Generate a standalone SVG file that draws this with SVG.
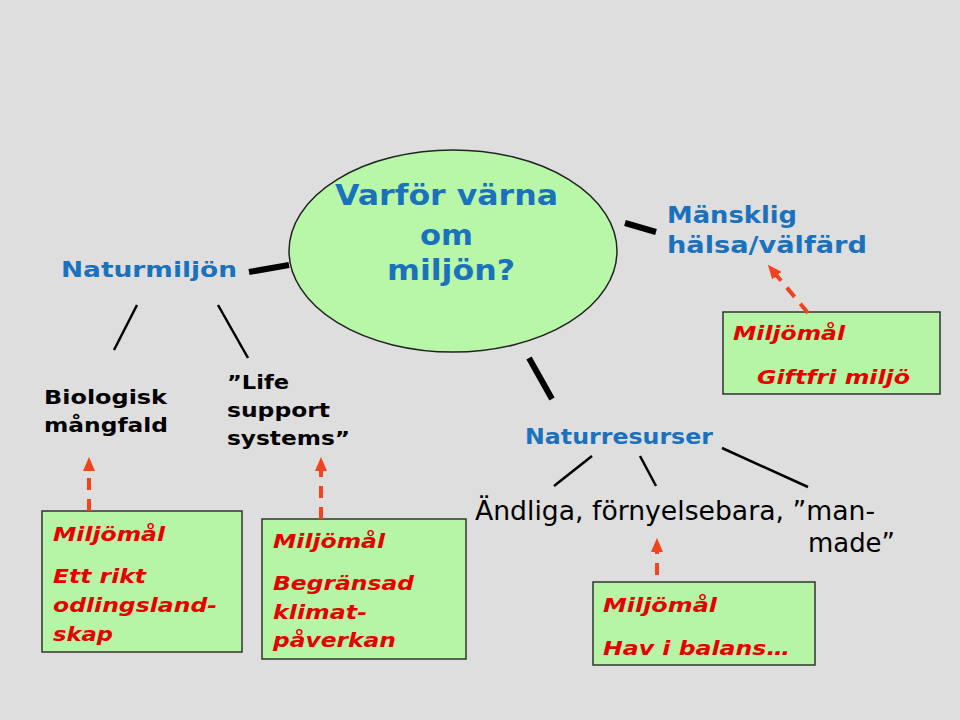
<svg xmlns="http://www.w3.org/2000/svg" width="960" height="720" viewBox="0 0 960 720">
<style>
text{font-family:"DejaVu Sans",Verdana,sans-serif}
.blue{font-weight:bold;fill:#1a72bd}
.blk{font-weight:bold;fill:#000;font-size:20px}
.red{font-weight:bold;font-style:italic;fill:#e60000;font-size:20px}
.box{fill:#b5f5a5;stroke:#333;stroke-width:1.5}
.ln{stroke:#000;stroke-width:2.5}
.th{stroke:#000;stroke-width:6}
.arr{stroke:#f0441e;stroke-width:4;stroke-dasharray:12,9;fill:none}
</style>
<defs>
<marker id="ah" markerWidth="3.5" markerHeight="3" refX="1.5" refY="1.5" orient="auto" markerUnits="strokeWidth">
<path d="M0,0 L3.5,1.5 L0,3 z" fill="#f0441e"/>
</marker>
</defs>
<rect x="0" y="0" width="960" height="720" fill="#dedede"/>
<g id="center">
<ellipse cx="453" cy="251" rx="164" ry="101" fill="#b8f7a8" stroke="#222" stroke-width="1.5"/>
<text class="blue" font-size="28" x="335" y="205" textLength="223" lengthAdjust="spacingAndGlyphs">Varför värna</text>
<text class="blue" font-size="28" x="420" y="245" textLength="53" lengthAdjust="spacingAndGlyphs">om</text>
<text class="blue" font-size="28" x="387" y="280" textLength="128" lengthAdjust="spacingAndGlyphs">miljön?</text>
</g>
<g id="naturmiljon"><text class="blue" font-size="21" x="61" y="277" textLength="176" lengthAdjust="spacingAndGlyphs">Naturmiljön</text></g>
<g id="mansklig"><text class="blue" font-size="23" x="667" y="223" textLength="130" lengthAdjust="spacingAndGlyphs">Mänsklig</text><text class="blue" font-size="23" x="667" y="253" textLength="200" lengthAdjust="spacingAndGlyphs">hälsa/välfärd</text></g>
<g id="biologisk"><text class="blk" x="44" y="404" textLength="123" lengthAdjust="spacingAndGlyphs">Biologisk</text><text class="blk" x="44" y="432" textLength="124" lengthAdjust="spacingAndGlyphs">mångfald</text></g>
<g id="life"><text class="blk" x="227" y="389" textLength="62" lengthAdjust="spacingAndGlyphs">”Life</text><text class="blk" x="227" y="417" textLength="103" lengthAdjust="spacingAndGlyphs">support</text><text class="blk" x="227" y="445" textLength="123" lengthAdjust="spacingAndGlyphs">systems”</text></g>
<g id="naturresurser"><text class="blue" font-size="21" x="525" y="444" textLength="188" lengthAdjust="spacingAndGlyphs">Naturresurser</text></g>
<g id="andliga"><text font-size="26" fill="#000" x="475" y="520" textLength="400" lengthAdjust="spacingAndGlyphs">Ändliga, förnyelsebara, ”man-</text><text font-size="26" fill="#000" x="808" y="552" textLength="87" lengthAdjust="spacingAndGlyphs">made”</text></g>
<g id="mal1"><rect class="box" x="42" y="511" width="200" height="141"/><text class="red" x="53" y="541" textLength="112" lengthAdjust="spacingAndGlyphs">Miljömål</text><text class="red" x="53" y="583" textLength="93" lengthAdjust="spacingAndGlyphs">Ett rikt</text><text class="red" x="53" y="612" textLength="164" lengthAdjust="spacingAndGlyphs">odlingsland-</text><text class="red" x="53" y="641" textLength="60" lengthAdjust="spacingAndGlyphs">skap</text></g>
<g id="mal2"><rect class="box" x="262" y="519" width="204" height="140"/><text class="red" x="273" y="548" textLength="112" lengthAdjust="spacingAndGlyphs">Miljömål</text><text class="red" x="273" y="590" textLength="141" lengthAdjust="spacingAndGlyphs">Begränsad</text><text class="red" x="273" y="619" textLength="94" lengthAdjust="spacingAndGlyphs">klimat-</text><text class="red" x="273" y="647" textLength="123" lengthAdjust="spacingAndGlyphs">påverkan</text></g>
<g id="mal3"><rect class="box" x="593" y="582" width="222" height="83"/><text class="red" x="603" y="612" textLength="114" lengthAdjust="spacingAndGlyphs">Miljömål</text><text class="red" x="603" y="655" textLength="187" lengthAdjust="spacingAndGlyphs">Hav i balans…</text></g>
<g id="mal4"><rect class="box" x="723" y="312" width="217" height="82"/><text class="red" x="733" y="340" textLength="112" lengthAdjust="spacingAndGlyphs">Miljömål</text><text class="red" x="757" y="384" textLength="153" lengthAdjust="spacingAndGlyphs">Giftfri miljö</text></g>
<g id="connectors">
<line class="th" x1="249" y1="272" x2="289" y2="265"/>
<line class="th" x1="625" y1="223" x2="656" y2="232"/>
<line class="th" x1="529" y1="358" x2="552" y2="399"/>
<line class="ln" x1="137" y1="305" x2="114" y2="350"/>
<line class="ln" x1="218" y1="305" x2="248" y2="358"/>
<line class="ln" x1="592" y1="456" x2="554" y2="486"/>
<line class="ln" x1="640" y1="456" x2="656" y2="486"/>
<line class="ln" x1="722" y1="448" x2="808" y2="487"/>
<line class="arr" x1="89" y1="511" x2="89" y2="465" marker-end="url(#ah)" stroke-dasharray="14,12"/>
<line class="arr" x1="321" y1="519" x2="321" y2="465" marker-end="url(#ah)"/>
<line class="arr" x1="657" y1="575" x2="657" y2="546" marker-end="url(#ah)"/>
<line class="arr" x1="808" y1="313" x2="773" y2="271" marker-end="url(#ah)"/>
</g>
</svg>
